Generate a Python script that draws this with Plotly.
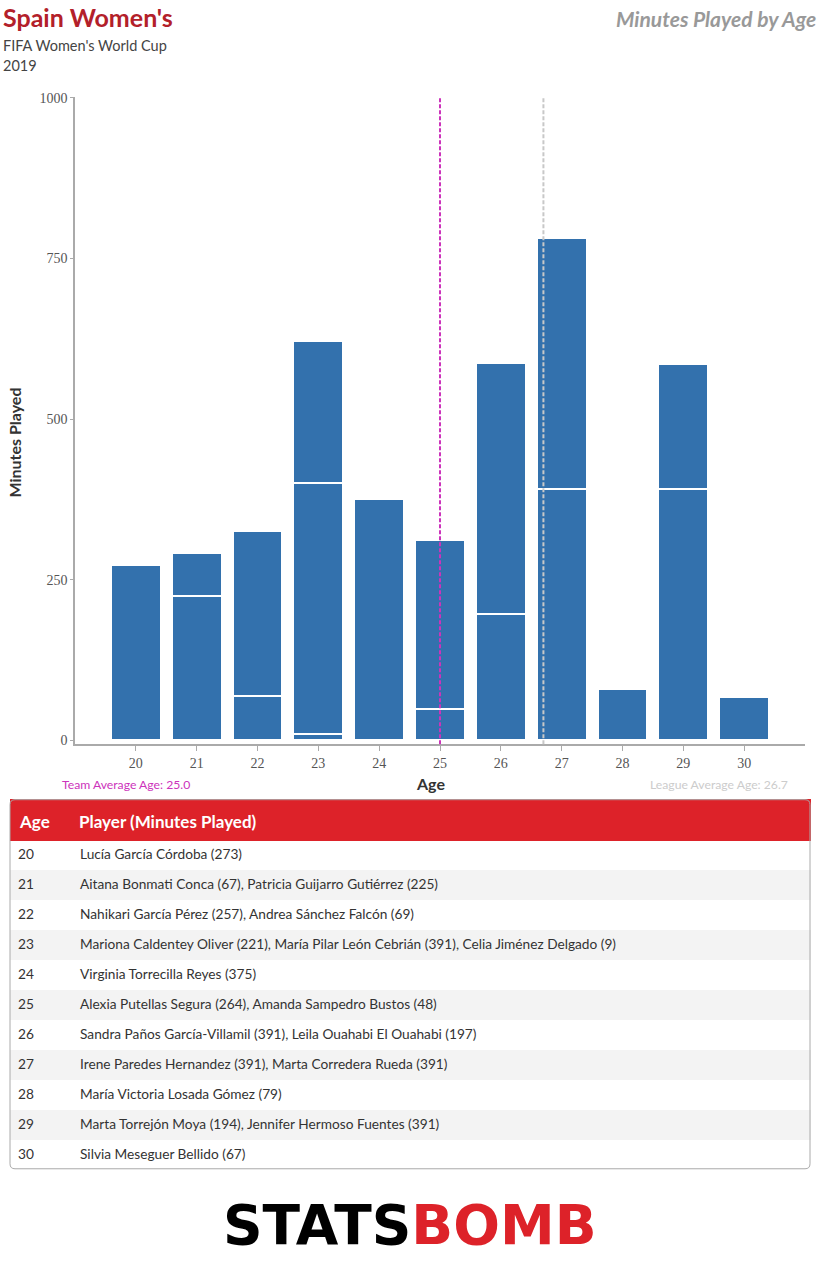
import plotly.graph_objects as go

# ---------------- data ----------------
ages = [20, 21, 22, 23, 24, 25, 26, 27, 28, 29, 30]
players = [
    ["Lucía García Córdoba"],
    ["Aitana Bonmati Conca", "Patricia Guijarro Gutiérrez"],
    ["Nahikari García Pérez", "Andrea Sánchez Falcón"],
    ["Mariona Caldentey Oliver", "María Pilar León Cebrián", "Celia Jiménez Delgado"],
    ["Virginia Torrecilla Reyes"],
    ["Alexia Putellas Segura", "Amanda Sampedro Bustos"],
    ["Sandra Paños García-Villamil", "Leila Ouahabi El Ouahabi"],
    ["Irene Paredes Hernandez", "Marta Corredera Rueda"],
    ["María Victoria Losada Gómez"],
    ["Marta Torrejón Moya", "Jennifer Hermoso Fuentes"],
    ["Silvia Meseguer Bellido"],
]
minutes = [
    [273],
    [67, 225],
    [257, 69],
    [221, 391, 9],
    [375],
    [264, 48],
    [391, 197],
    [391, 391],
    [79],
    [194, 391],
    [67],
]
team_avg_age = 25.0
league_avg_age = 26.7
y_ticks = [0, 250, 500, 750, 1000]
table_headers = ["Age", "Player (Minutes Played)"]

W, H = 820, 1270
def px(x):
    return x / W
def py(y):
    return 1 - y / H

BAR = "#3371ad"
FONT = "Lato"
PLOT_TOP, PLOT_BOTTOM = 92, 744

fig = go.Figure()

max_layers = max(len(m) for m in minutes)
for k in range(max_layers):
    yv, names = [], []
    for m, p in zip(minutes, players):
        mr, pr = m[::-1], p[::-1]
        if k < len(mr):
            yv.append(mr[k]); names.append(pr[k])
        else:
            yv.append(None); names.append("")
    fig.add_trace(go.Bar(
        x=ages, y=yv, text=names, textposition="none",
        marker=dict(color=BAR, line=dict(color="white", width=2)),
        hovertemplate="%{text}: %{y}<extra></extra>",
        showlegend=False,
    ))

# table
ages_col = [str(a) for a in ages]
players_col = [", ".join(f"{n} ({v})" for n, v in zip(p, m)) for p, m in zip(players, minutes)]
fills = ["white" if i % 2 == 0 else "#f3f3f3" for i in range(len(ages))]
fig.add_trace(go.Table(
    domain=dict(x=[px(10), px(810)], y=[py(1172), py(800)]),
    columnwidth=[62, 738],
    header=dict(values=["", ""],
                fill_color="#dd2229", line_color="#dd2229",
                font=dict(family=FONT, size=17, color="white"),
                align="left", height=41),
    cells=dict(values=[ages_col, players_col],
               fill_color=[fills, fills], line_color=[fills, fills],
               font=dict(family=FONT, size=13.7, color="#333"),
               align="left", height=30),
))

fig.update_layout(
    width=W, height=H,
    margin=dict(l=0, r=0, t=0, b=0),
    paper_bgcolor="white", plot_bgcolor="white",
    barmode="stack", bargap=0.18,
    xaxis=dict(domain=[px(75), px(805)], range=[19, 31],
               tickvals=ages, ticks="outside", ticklen=5, tickcolor="#aaa",
               showline=True, linecolor="#aaa", linewidth=1.5,
               showgrid=False, zeroline=False,
               tickfont=dict(family="Liberation Serif", size=14, color="#555")),
    yaxis=dict(domain=[py(PLOT_BOTTOM), py(PLOT_TOP)], range=[-6.2, 1001],
               tickvals=y_ticks, ticks="outside", ticklen=3, tickcolor="#aaa",
               showline=True, linecolor="#aaa", linewidth=1.5,
               showgrid=False, zeroline=False,
               tickfont=dict(family="Liberation Serif", size=14, color="#555")),
    font=dict(family=FONT),
)

# average lines
fig.add_shape(type="line", xref="x", yref="paper", x0=team_avg_age, x1=team_avg_age,
              y0=py(PLOT_BOTTOM), y1=py(PLOT_TOP), line=dict(color="#cc33bb", width=2, dash="4px,2px"),
              layer="above")
fig.add_shape(type="line", xref="x", yref="paper", x0=league_avg_age, x1=league_avg_age,
              y0=py(PLOT_BOTTOM), y1=py(PLOT_TOP), line=dict(color="#c8c8c8", width=2, dash="4px,2px"),
              layer="above")

# table rounded border
x0, x1, y0, y1, r = 10, 810, 800, 1172, 5
path = (f"M {px(x0+r)} {py(y0)} L {px(x1-r)} {py(y0)} Q {px(x1)} {py(y0)} {px(x1)} {py(y0+r)} "
        f"L {px(x1)} {py(y1-r)} Q {px(x1)} {py(y1)} {px(x1-r)} {py(y1)} "
        f"L {px(x0+r)} {py(y1)} Q {px(x0)} {py(y1)} {px(x0)} {py(y1-r)} "
        f"L {px(x0)} {py(y0+r)} Q {px(x0)} {py(y0)} {px(x0+r)} {py(y0)} Z")
fig.add_shape(type="path", xref="paper", yref="paper", path=path,
              line=dict(color="#aaaaaa", width=1), layer="above")

ann = [
    dict(x=px(1), y=py(11), text="<b>Spain Women's</b>", xanchor="left",
         font=dict(family=FONT, size=25, color="#b3202a")),
    dict(x=px(1), y=py(40), text="FIFA Women's World Cup", xanchor="left",
         font=dict(family=FONT, size=14.5, color="#444")),
    dict(x=px(1), y=py(60), text="2019", xanchor="left",
         font=dict(family=FONT, size=14.5, color="#444")),
    dict(x=px(818), y=py(13), text="<b><i>Minutes Played by Age</i></b>", xanchor="right",
         font=dict(family=FONT, size=21, color="#999")),
    dict(x=px(15), y=py(440), text="<b>Minutes Played</b>", textangle=-90, xanchor="center",
         font=dict(family=FONT, size=16, color="#333")),
    dict(x=px(430), y=py(784), text="<b>Age</b>",
         font=dict(family=FONT, size=16, color="#333")),
    dict(x=px(60), y=py(785), text=f"Team Average Age: {team_avg_age:.1f}", xanchor="left",
         font=dict(family=FONT, size=12.2, color="#cc33bb")),
    dict(x=px(790), y=py(785), text=f"League Average Age: {league_avg_age:.1f}", xanchor="right",
         font=dict(family=FONT, size=12.2, color="#cccccc")),
    dict(x=px(17), y=py(822), text=f"<b>{table_headers[0]}</b>", xanchor="left",
         font=dict(family=FONT, size=17, color="white")),
    dict(x=px(77), y=py(822), text=f"<b>{table_headers[1]}</b>", xanchor="left",
         font=dict(family=FONT, size=17, color="white")),
    dict(x=px(410), y=py(1229),
         text="<b><span style='color:#000'>STATS</span><span style='color:#dd2229'>BOMB</span></b>",
         font=dict(family="DejaVu Sans", size=55, color="#000")),
]
for a in ann:
    a.setdefault("yanchor", "middle")
    a.update(xref="paper", yref="paper", showarrow=False)
    fig.add_annotation(**a)

fig.write_html(
    "out.html",
    config={"displayModeBar": False},
    post_script="document.body.style.margin='0';document.body.style.overflow='hidden';",
)
